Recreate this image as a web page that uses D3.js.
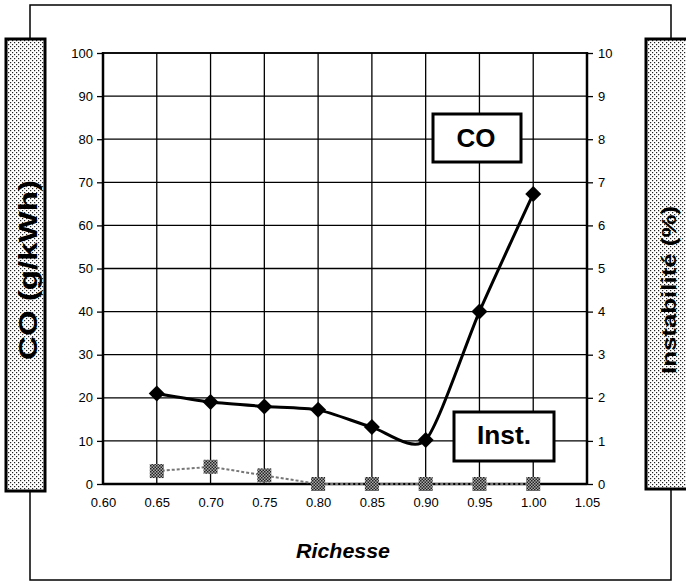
<!DOCTYPE html>
<html><head><meta charset="utf-8">
<script src="https://cdn.jsdelivr.net/npm/d3@7/dist/d3.min.js"></script>
<style>body{margin:0;background:#fff}svg{display:block}text{font-family:"Liberation Sans",Arial,Helvetica,sans-serif}</style>
</head><body>
<svg id="c" width="686" height="584"></svg>
<script>
const richesse = [0.65, 0.70, 0.75, 0.80, 0.85, 0.90, 0.95, 1.00];
const co = [21, 19, 18, 17.2, 13.2, 10.2, 40, 67.3];
const inst = [0.3, 0.4, 0.2, 0, 0, 0, 0, 0];
const xTicks = [0.60, 0.65, 0.70, 0.75, 0.80, 0.85, 0.90, 0.95, 1.00, 1.05];
const yLeftTicks = [0,10,20,30,40,50,60,70,80,90,100];
const yRightTicks = [0,1,2,3,4,5,6,7,8,9,10];

const svg = d3.select("#c");
const defs = svg.append("defs");
const dots = defs.append("pattern").attr("id","dots").attr("patternUnits","userSpaceOnUse").attr("width",4).attr("height",4);
dots.append("rect").attr("width",4).attr("height",4).attr("fill","#fff");
dots.append("rect").attr("x",0).attr("y",0).attr("width",1.2).attr("height",1.2).attr("fill","#222");
dots.append("rect").attr("x",2).attr("y",2).attr("width",1.2).attr("height",1.2).attr("fill","#222");
const chk = defs.append("pattern").attr("id","chk").attr("patternUnits","userSpaceOnUse").attr("width",3).attr("height",3);
chk.append("rect").attr("width",3).attr("height",3).attr("fill","#aaa");
chk.append("rect").attr("width",1.5).attr("height",1.5).attr("fill","#222");
chk.append("rect").attr("x",1.5).attr("y",1.5).attr("width",1.5).attr("height",1.5).attr("fill","#222");

// outer frame
svg.append("rect").attr("x",30).attr("y",5).attr("width",641).attr("height",575).attr("fill","none").attr("stroke","#000").attr("stroke-width",1.5);

// side label boxes
svg.append("rect").attr("x",6).attr("y",39).attr("width",39).attr("height",452).attr("fill","url(#dots)").attr("stroke","#000").attr("stroke-width",3);
svg.append("rect").attr("x",646).attr("y",39).attr("width",45).attr("height",450).attr("fill","url(#dots)").attr("stroke","#000").attr("stroke-width",3);
svg.append("text").attr("transform","translate(37,270) rotate(-90)").attr("text-anchor","middle").attr("font-size",25).attr("font-weight","bold")
  .attr("textLength",180).attr("lengthAdjust","spacingAndGlyphs").text("CO (g/kWh)");
svg.append("text").attr("transform","translate(676,290) rotate(-90)").attr("text-anchor","middle").attr("font-size",21).attr("font-weight","bold")
  .attr("textLength",168).attr("lengthAdjust","spacingAndGlyphs").text("Instabilité (%)");

const x = d3.scaleLinear().domain([0.60,1.05]).range([103,587]);
const yL = d3.scaleLinear().domain([0,100]).range([484,53]);
const yR = d3.scaleLinear().domain([0,10]).range([484,53]);

// grid
const g = svg.append("g");
g.selectAll("line.h").data(yLeftTicks).join("line").attr("x1",103).attr("x2",587).attr("y1",d=>yL(d)).attr("y2",d=>yL(d)).attr("stroke","#000").attr("stroke-width",1.3);
g.selectAll("line.v").data(xTicks.slice(1,-1)).join("line").attr("x1",d=>x(d)).attr("x2",d=>x(d)).attr("y1",53).attr("y2",484).attr("stroke","#000").attr("stroke-width",1.3);
// axes frame lines
svg.append("line").attr("x1",103).attr("x2",103).attr("y1",52).attr("y2",485).attr("stroke","#000").attr("stroke-width",2.5);
svg.append("line").attr("x1",587).attr("x2",587).attr("y1",52).attr("y2",485).attr("stroke","#000").attr("stroke-width",2.5);
svg.append("line").attr("x1",103).attr("x2",587).attr("y1",484).attr("y2",484).attr("stroke","#000").attr("stroke-width",2.5);
svg.append("line").attr("x1",103).attr("x2",587).attr("y1",53).attr("y2",53).attr("stroke","#000").attr("stroke-width",1.3);

// axes
const axL = svg.append("g").attr("transform","translate(103,0)").call(d3.axisLeft(yL).tickValues(yLeftTicks).tickSize(6).tickPadding(4));
const axR = svg.append("g").attr("transform","translate(587,0)").call(d3.axisRight(yR).tickValues(yRightTicks).tickSize(6).tickPadding(5));
const axB = svg.append("g").attr("transform","translate(0,484)").call(d3.axisBottom(x).tickValues(xTicks).tickFormat(d3.format(".2f")).tickSize(0).tickPadding(14));
[axL,axR,axB].forEach(a=>{a.select(".domain").remove();a.selectAll("text").attr("font-size",13).attr("fill","#000").attr("font-family","'Liberation Sans',Arial,sans-serif");a.selectAll("line").attr("stroke","#000").attr("stroke-width",1.3);});

svg.append("text").attr("x",343).attr("y",558).attr("text-anchor","middle").attr("font-size",20).attr("font-weight","bold").attr("font-style","italic")
  .attr("textLength",94).attr("lengthAdjust","spacingAndGlyphs").text("Richesse");

// Inst series
const instPts = richesse.map((r,i)=>[x(r), yR(inst[i])]);
svg.append("path").attr("d",d3.line()(instPts)).attr("fill","none").attr("stroke","#777").attr("stroke-width",2).attr("stroke-dasharray","3,2");
svg.selectAll("rect.inst").data(instPts).join("rect").attr("x",d=>d[0]-7).attr("y",d=>d[1]-7).attr("width",14).attr("height",14).attr("fill","url(#chk)");

// CO series
const coPts = richesse.map((r,i)=>[x(r), yL(co[i])]);
svg.append("path").attr("d",d3.line().curve(d3.curveCardinal.tension(0.3))(coPts)).attr("fill","none").attr("stroke","#000").attr("stroke-width",3);
svg.selectAll("path.dia").data(coPts).join("path").attr("transform",d=>`translate(${d[0]},${d[1]})`).attr("d","M0,-8L8,0L0,8L-8,0Z").attr("fill","#000");

// label boxes
svg.append("rect").attr("x",433).attr("y",114).attr("width",88).attr("height",48).attr("fill","#fff").attr("stroke","#000").attr("stroke-width",3);
svg.append("text").attr("x",476).attr("y",147).attr("text-anchor","middle").attr("font-size",26).attr("font-weight","bold")
  .attr("textLength",39).attr("lengthAdjust","spacingAndGlyphs").text("CO");
svg.append("rect").attr("x",454).attr("y",412).attr("width",100).attr("height",49).attr("fill","#fff").attr("stroke","#000").attr("stroke-width",3);
svg.append("text").attr("x",504).attr("y",444).attr("text-anchor","middle").attr("font-size",26).attr("font-weight","bold")
  .attr("textLength",54).attr("lengthAdjust","spacingAndGlyphs").text("Inst.");
</script>
</body></html>
